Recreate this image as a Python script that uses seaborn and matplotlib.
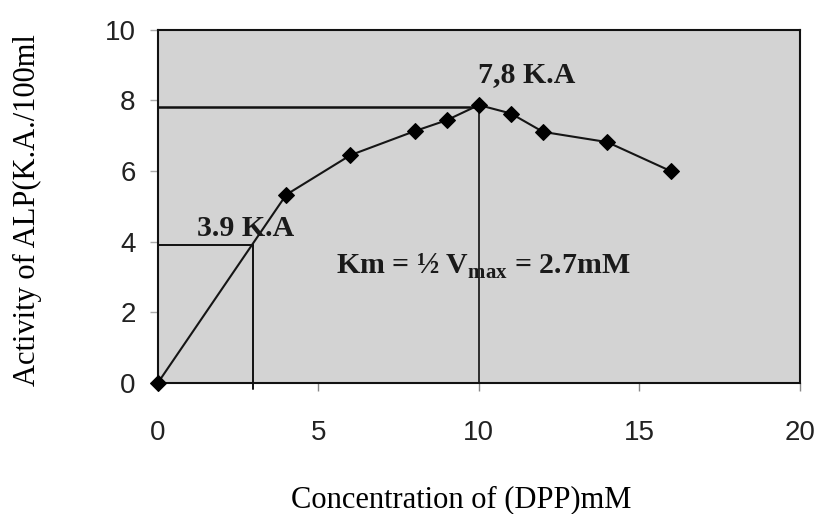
import pandas as pd
import matplotlib
matplotlib.use("Agg")
import matplotlib.pyplot as plt
import seaborn as sns

# Data
concentration = [0, 4, 6, 8, 9, 10, 11, 12, 14, 16]
activity = [0, 5.33, 6.45, 7.13, 7.44, 7.87, 7.63, 7.11, 6.82, 5.99]

x_ticks = [0, 5, 10, 15, 20]
y_ticks = [0, 2, 4, 6, 8, 10]

vmax = 7.8
half_vmax = 3.9
vmax_conc = 10
km_line = 2.95

sns.set_theme(style="ticks")
plt.rcParams["font.family"] = ["Liberation Sans", "DejaVu Sans"]
plt.rcParams["mathtext.fontset"] = "custom"
plt.rcParams["mathtext.rm"] = "Liberation Serif:bold"
plt.rcParams["mathtext.bf"] = "Liberation Serif:bold"

df = pd.DataFrame({"conc": concentration, "act": activity})

fig = plt.figure(figsize=(8.22, 5.14), dpi=100)
ax = fig.add_axes([0.192, 0.255, 0.781, 0.687])
ax.set_facecolor("#d3d3d3")

# guide lines for Vmax and half Vmax
ax.plot([0, vmax_conc], [vmax, vmax], color="#111111", lw=1.8, zorder=2)
ax.plot([vmax_conc, vmax_conc], [0, vmax], color="#111111", lw=1.2, zorder=2)
ax.plot([0, km_line], [half_vmax, half_vmax], color="#111111", lw=1.4, zorder=2)
ax.plot([km_line, km_line], [-0.18, half_vmax], color="#111111", lw=1.4,
        zorder=2, clip_on=False)

sns.lineplot(data=df, x="conc", y="act", ax=ax, color="#151515", lw=1.5,
             marker="D", markersize=8, markeredgecolor="#000000",
             markerfacecolor="#000000", zorder=3, clip_on=False)

ax.set_xlim(0, 20)
ax.set_ylim(0, 10)
ax.set_xticks(x_ticks)
ax.set_yticks(y_ticks)
ax.tick_params(axis="x", direction="out", length=6, width=1, color="#888888",
               pad=21, labelsize=20, labelcolor="#222222")
ax.tick_params(axis="y", direction="out", length=6, width=1, color="#aaaaaa",
               pad=10, labelsize=20, labelcolor="#222222")
for s in ax.spines.values():
    s.set_visible(True)
    s.set_color("#111111")
    s.set_linewidth(1.5)

ax.set_xlabel("Concentration of (DPP)mM", family="Liberation Serif",
              fontsize=22, color="black")
ax.xaxis.set_label_coords(0.472, -0.29)
ax.set_ylabel("Activity of ALP(K.A./100ml", family="Liberation Serif",
              fontsize=22, color="black")
ax.yaxis.set_label_coords(-0.18, 0.49)

txt = dict(family="Liberation Serif", fontweight="bold", fontsize=21.5,
           color="#1a1a1a", ha="center", va="center")
ax.text(11.5, 8.72, "7,8 K.A", **txt)
ax.text(2.75, 4.36, "3.9 K.A", **txt)
ax.text(10.15, 3.3, r"Km = ½ $\mathrm{V}_{\mathrm{max}}$ = 2.7mM", **txt)

fig.savefig("out.png", dpi=100, facecolor="white")
